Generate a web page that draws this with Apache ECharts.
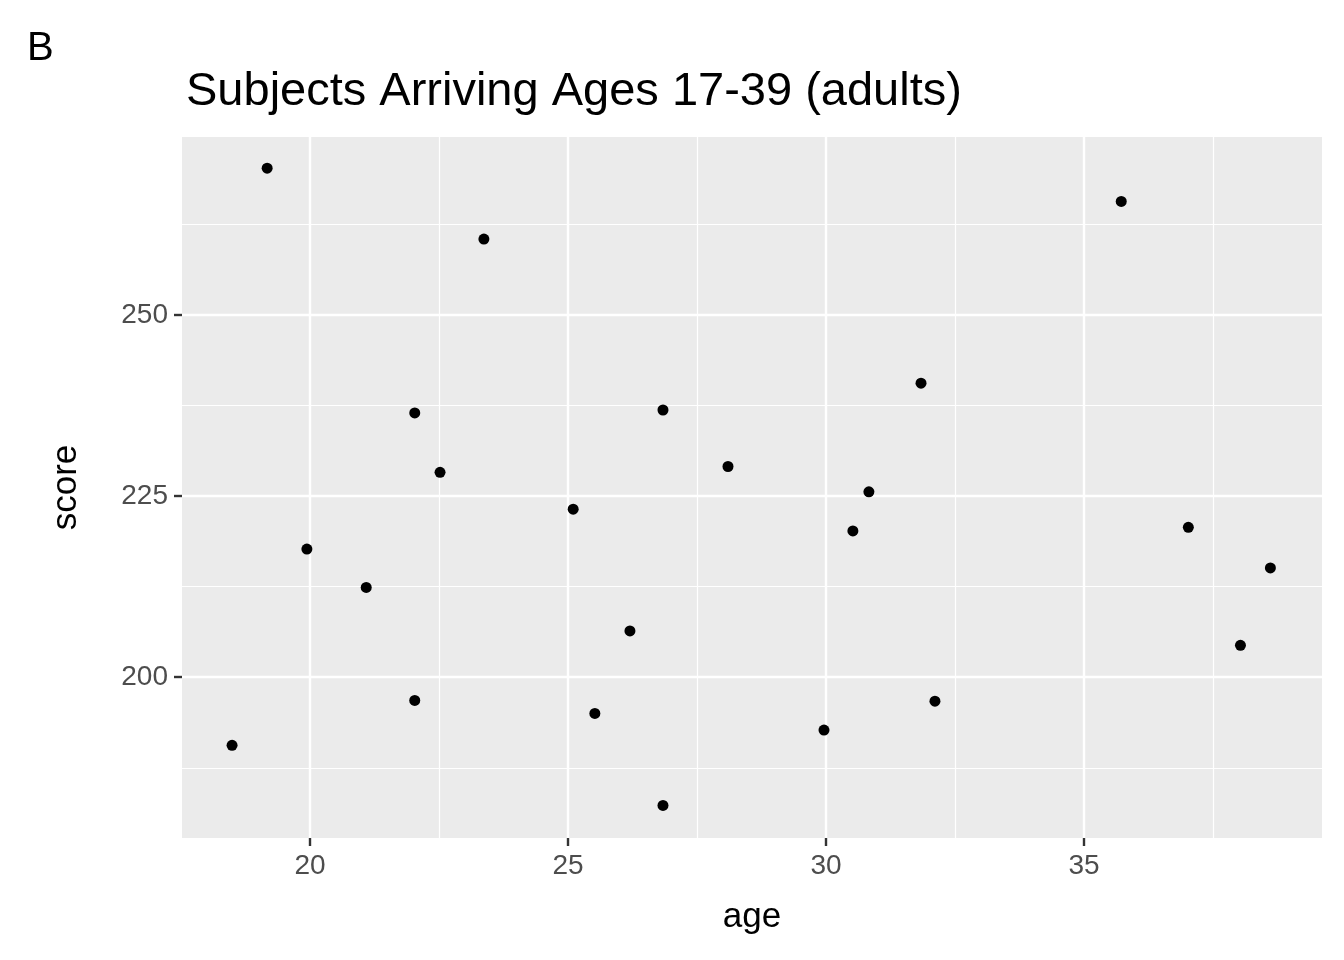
<!DOCTYPE html>
<html lang="en">
<head>
<meta charset="UTF-8">
<title>Subjects Arriving Ages 17-39 (adults)</title>
<script src="https://cdn.jsdelivr.net/npm/echarts@6/dist/echarts.min.js"></script>
</head>
<body style="margin:0">
<div id="chart" style="width:1344px;height:960px;"></div>
<script>
const ages = [19.17, 23.37, 35.72, 31.84, 22.03, 26.84, 22.52, 28.10, 30.83, 25.10, 30.52, 37.02,
              19.94, 38.61, 21.09, 26.20, 38.03, 22.03, 32.11, 25.52, 29.96, 18.49, 26.84];
const scores = [270.3, 260.5, 265.7, 240.6, 236.5, 236.9, 228.3, 229.1, 225.6, 223.2, 220.2, 220.7,
                217.7, 215.1, 212.4, 206.4, 204.4, 196.8, 196.7, 195.0, 192.7, 190.6, 182.3];
const xTicks = [20, 25, 30, 35];
const xMinor = [22.5, 27.5, 32.5, 37.5];
const yTicks = [200, 225, 250];
const yMinor = [187.5, 212.5, 237.5, 262.5];

const font = 'Liberation Sans, Arial, sans-serif';
const chart = echarts.init(document.getElementById('chart'));

const gridLines = [].concat(
  xTicks.map(v => ({ xAxis: v, lineStyle: { width: 2.4 } })),
  xMinor.map(v => ({ xAxis: v, lineStyle: { width: 1.2 } })),
  yTicks.map(v => ({ yAxis: v, lineStyle: { width: 2.4 } })),
  yMinor.map(v => ({ yAxis: v, lineStyle: { width: 1.2 } }))
);

const tickStyle = { show: true, length: 8, inside: false, lineStyle: { color: '#333', width: 2.4 } };

chart.setOption({
  animation: false,
  backgroundColor: '#fff',
  title: [
    { text: 'B', left: 22, top: 24, textStyle: { fontFamily: font, fontSize: 40, fontWeight: 'normal', color: '#000' } },
    { text: 'Subjects Arriving Ages 17-39 (adults)', left: 181, top: 64, textStyle: { fontFamily: font, fontSize: 47, fontWeight: 'normal', color: '#000' } }
  ],
  grid: { left: 182, right: 22, top: 137, bottom: 122, show: true, backgroundColor: '#ebebeb', borderWidth: 0 },
  xAxis: {
    type: 'value', min: 17.52, max: 39.61,
    name: 'age', nameLocation: 'middle', nameGap: 62,
    nameTextStyle: { fontFamily: font, fontSize: 35, color: '#000' },
    axisLine: { show: false },
    splitLine: { show: false },
    axisTick: Object.assign({ customValues: xTicks }, tickStyle),
    axisLabel: { customValues: xTicks, fontFamily: font, fontSize: 28, color: '#4d4d4d', margin: 14 }
  },
  yAxis: {
    type: 'value', min: 177.8, max: 274.6,
    name: 'score', nameLocation: 'middle', nameGap: 98,
    nameTextStyle: { fontFamily: font, fontSize: 35, color: '#000' },
    axisLine: { show: false },
    splitLine: { show: false },
    axisTick: Object.assign({ customValues: yTicks }, tickStyle),
    axisLabel: { customValues: yTicks, fontFamily: font, fontSize: 28, color: '#4d4d4d', margin: 14 }
  },
  series: [
    {
      type: 'scatter', data: [], silent: true,
      markLine: { silent: true, symbol: 'none', label: { show: false }, animation: false,
        lineStyle: { color: '#fff', type: 'solid', opacity: 1 }, data: gridLines }
    },
    {
      type: 'scatter', symbolSize: 11, itemStyle: { color: '#000', opacity: 1 },
      data: ages.map((a, i) => [a, scores[i]]), z: 5
    }
  ]
});
</script>
</body>
</html>
